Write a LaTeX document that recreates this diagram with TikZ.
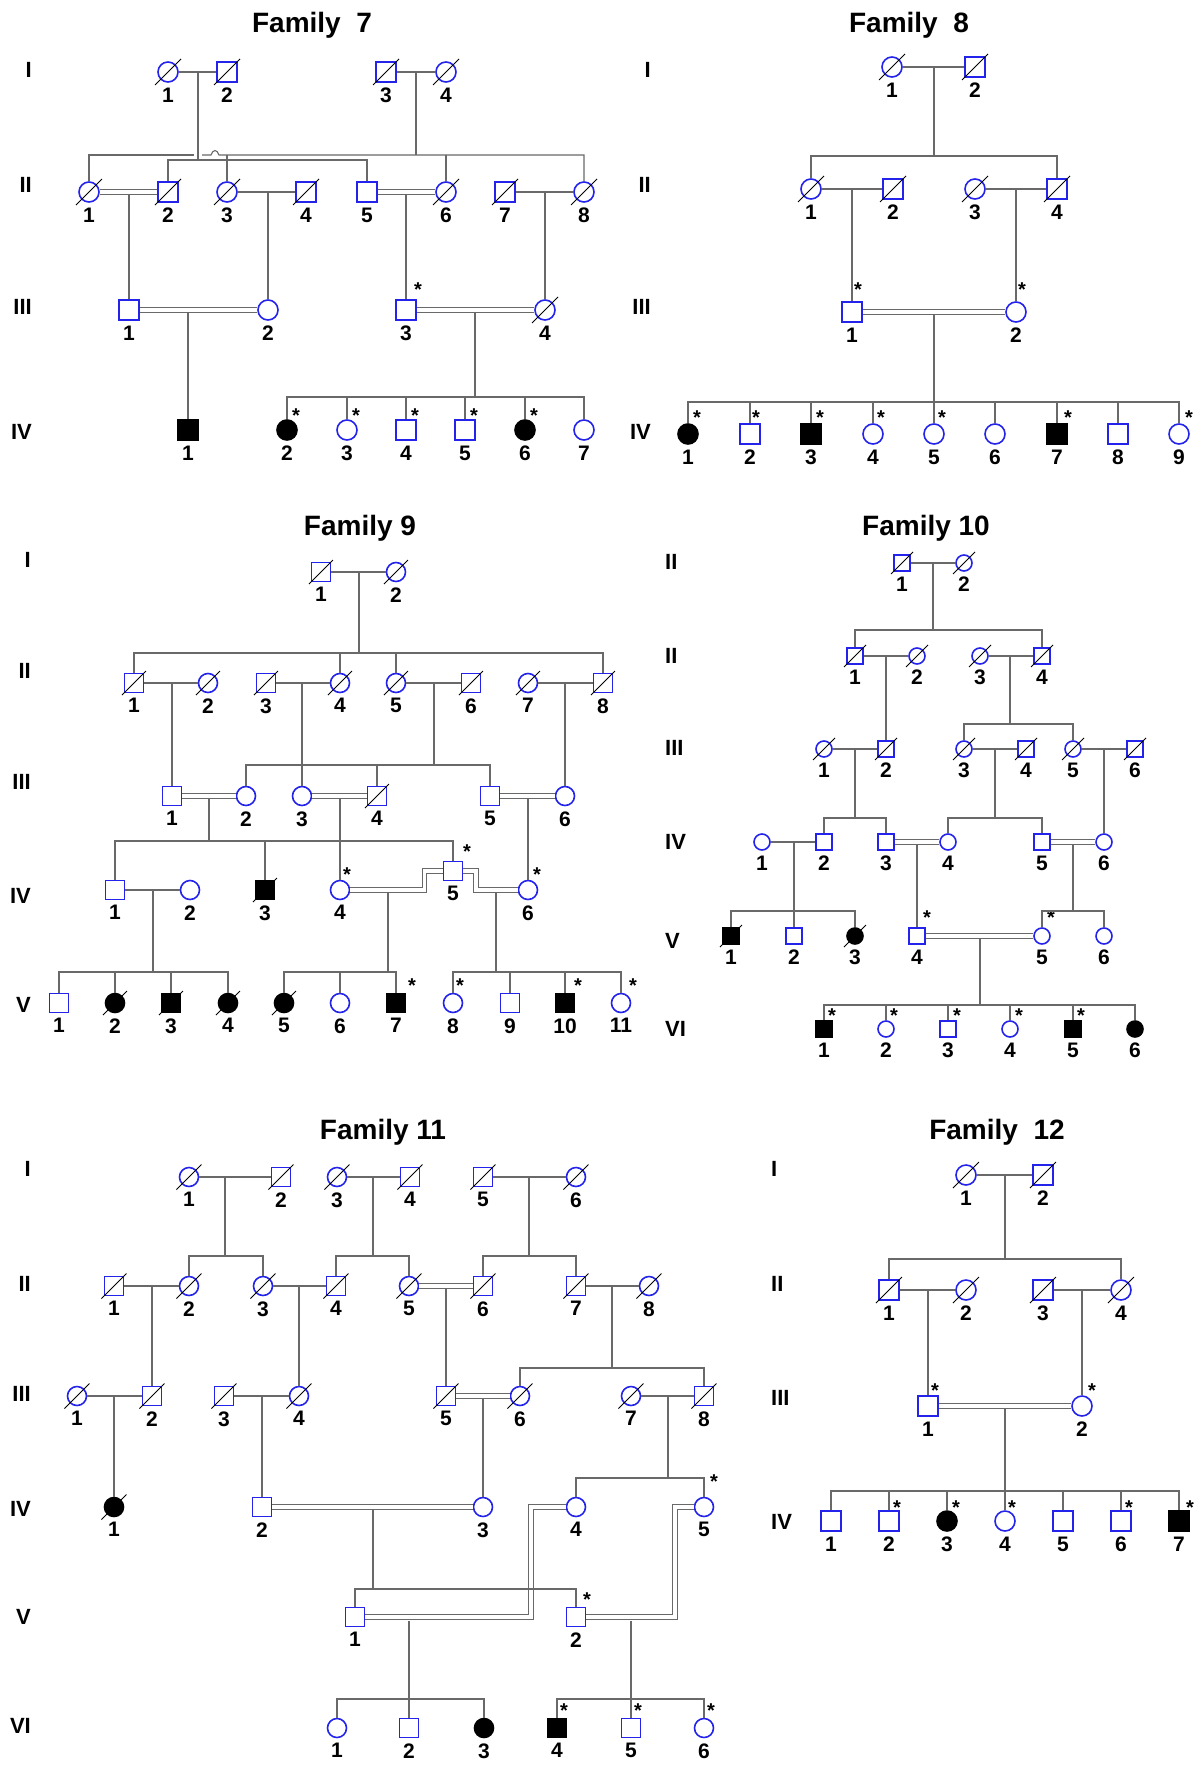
\documentclass[tikz,border=0pt]{standalone}
\usepackage{fontspec}
\setmainfont{Liberation Sans}
\definecolor{pblue}{RGB}{35,35,235}
\definecolor{lgray}{RGB}{105,105,105}
\tikzset{
  person/.style={draw=pblue, line width=1.6pt, inner sep=0pt, minimum size=20pt},
  male/.style={person, rectangle},
  female/.style={person, circle},
  aff/.style={draw=black, fill=black},
  deadln/.style={draw=black, line width=1pt},
  dead/.style={append after command={([shift={(-#1,-#1)}]\tikzlastnode.center) edge[deadln] ([shift={(#1,#1)}]\tikzlastnode.center)}},
  dead/.default=13pt,
  num/.style={font=\bfseries\fontsize{21}{21}\selectfont, inner sep=0pt, yshift=-5pt},
  lb/.style={label={[num]below:#1}},
  astl/.style={font=\bfseries\fontsize{20}{20}\selectfont, inner sep=0pt, anchor=center, yshift=-3pt},
  ast/.style={label={[astl,shift={(#1)}]center:*}},
  ast/.default={9,-17},
  gen/.style={font=\bfseries\fontsize{22}{22}\selectfont, inner sep=0pt},
  ttl/.style={font=\bfseries\fontsize{28}{28}\selectfont, inner sep=0pt, anchor=base},
  cons/.style={line width=1.1pt, double=white, double distance=3.5pt},
}
\begin{document}
\begin{tikzpicture}[x=1pt, y=-1pt]
\useasboundingbox (0,0) rectangle (1204,1772);

% ---------------- Family 7
\node[ttl] (t7) at (312,32) {Family~~7};
\node[gen, anchor=east] (g7a) at (32,70) {I};
\node[gen, anchor=east] (g7b) at (32,185) {II};
\node[gen, anchor=east] (g7c) at (32,307) {III};
\node[gen, anchor=east] (g7d) at (32,432) {IV};

\node[female, dead, lb=1] (f7a1) at (168,72) {};
\node[male, dead, lb=2] (f7a2) at (227,72) {};
\node[male, dead, lb=3] (f7a3) at (386,72) {};
\node[female, dead, lb=4] (f7a4) at (446,72) {};

\node[female, dead, lb=1] (f7b1) at (89,192) {};
\node[male, dead, lb=2] (f7b2) at (168,192) {};
\node[female, dead, lb=3] (f7b3) at (227,192) {};
\node[male, dead, lb=4] (f7b4) at (306,192) {};
\node[male, lb=5] (f7b5) at (367,192) {};
\node[female, dead, lb=6] (f7b6) at (446,192) {};
\node[male, dead, lb=7] (f7b7) at (505,192) {};
\node[female, dead, lb=8] (f7b8) at (584,192) {};

\node[male, lb=1] (f7c1) at (129,310) {};
\node[female, lb=2] (f7c2) at (268,310) {};
\node[male, lb=3, ast={12,-23}] (f7c3) at (406,310) {};
\node[female, dead, lb=4] (f7c4) at (545,310) {};

\node[male, aff, lb=1] (f7d1) at (188,430) {};
\node[female, aff, lb=2, ast] (f7d2) at (287,430) {};
\node[female, lb=3, ast] (f7d3) at (347,430) {};
\node[male, lb=4, ast] (f7d4) at (406,430) {};
\node[male, lb=5, ast] (f7d5) at (465,430) {};
\node[female, aff, lb=6, ast] (f7d6) at (525,430) {};
\node[female, lb=7] (f7d7) at (584,430) {};

\begin{scope}[color=lgray, line width=1.1pt]
\draw (f7a1) -- (f7a2);
\draw (f7a3) -- (f7a4);
\coordinate (m7a) at (198,72);
\coordinate (s7a) at (198,160);
\draw (m7a) -- (s7a);
\draw (f7b2) |- (s7a) -| (f7b5);
\coordinate (m7b) at (416,72);
\coordinate (s7b) at (416,155);
\draw (m7b) -- (s7b);
\draw (f7b1) |- (194,155);
\draw (202,155) -- (211,155) .. controls (213,149) and (217,149) .. (219,155) -| (f7b8);
\draw (f7b3) -- (f7b3 |- s7b);
\draw (f7b6) -- (f7b6 |- s7b);
\draw (f7b3) -- (f7b4);
\draw (f7b7) -- (f7b8);
\draw (f7c1) -- (f7c1 |- f7b1);
\draw (f7c2) -- (f7c2 |- f7b1);
\draw (f7c3) -- (f7c3 |- f7b1);
\draw (f7c4) -- (f7c4 |- f7b1);
\draw (f7d1) -- (f7d1 |- f7c1);
\coordinate (m7h) at (475,310);
\coordinate (s7h) at (475,397);
\draw (m7h) -- (s7h);
\draw (f7d2) |- (s7h) -| (f7d7);
\foreach \k in {3,...,6} \draw (f7d\k) -- (f7d\k |- s7h);
\draw[cons] (f7b1) -- (f7b2);
\draw[cons] (f7b5) -- (f7b6);
\draw[cons] (f7c1) -- (f7c2);
\draw[cons] (f7c3) -- (f7c4);
\end{scope}

% ---------------- Family 8
\node[ttl] (t8) at (909,32) {Family~~8};
\node[gen, anchor=east] (g8a) at (651,70) {I};
\node[gen, anchor=east] (g8b) at (651,185) {II};
\node[gen, anchor=east] (g8c) at (651,307) {III};
\node[gen, anchor=east] (g8d) at (651,432) {IV};

\node[female, dead, lb=1] (f8a1) at (892,67) {};
\node[male, dead, lb=2] (f8a2) at (975,67) {};

\node[female, dead, lb=1] (f8b1) at (811,189) {};
\node[male, dead, lb=2] (f8b2) at (893,189) {};
\node[female, dead, lb=3] (f8b3) at (975,189) {};
\node[male, dead, lb=4] (f8b4) at (1057,189) {};

\node[male, lb=1, ast={6,-25}] (f8c1) at (852,312) {};
\node[female, lb=2, ast={6,-25}] (f8c2) at (1016,312) {};

\node[female, aff, lb=1, ast={9,-19}] (f8d1) at (688,434) {};
\node[male, lb=2, ast={6,-19}] (f8d2) at (750,434) {};
\node[male, aff, lb=3, ast={9,-19}] (f8d3) at (811,434) {};
\node[female, lb=4, ast={8,-19}] (f8d4) at (873,434) {};
\node[female, lb=5, ast={8,-19}] (f8d5) at (934,434) {};
\node[female, lb=6] (f8d6) at (995,434) {};
\node[male, aff, lb=7, ast={11,-19}] (f8d7) at (1057,434) {};
\node[male, lb=8] (f8d8) at (1118,434) {};
\node[female, lb=9, ast={10,-19}] (f8d9) at (1179,434) {};

\begin{scope}[color=lgray, line width=1.1pt]
\draw (f8a1) -- (f8a2);
\coordinate (m8a) at (934,67);
\coordinate (s8a) at (934,156);
\draw (m8a) -- (s8a);
\draw (f8b1) |- (s8a) -| (f8b4);
\draw (f8b1) -- (f8b2);
\draw (f8b3) -- (f8b4);
\draw (f8c1) -- (f8c1 |- f8b1);
\draw (f8c2) -- (f8c2 |- f8b1);
\coordinate (m8c) at (934,312);
\coordinate (s8c) at (934,402);
\draw (m8c) -- (s8c);
\draw (f8d1) |- (s8c) -| (f8d9);
\foreach \k in {2,...,8} \draw (f8d\k) -- (f8d\k |- s8c);
\draw[cons] (f8c1) -- (f8c2);
\end{scope}

% ---------------- Family 9
\begin{scope}[male/.append style={minimum size=19pt}, female/.append style={minimum size=19pt}, dead/.default=12pt]
\node[ttl] (t9) at (360,535) {Family 9};
\node[gen, anchor=east] (g9a) at (31,560) {I};
\node[gen, anchor=east] (g9b) at (31,671) {II};
\node[gen, anchor=east] (g9c) at (31,782) {III};
\node[gen, anchor=east] (g9d) at (31,896) {IV};
\node[gen, anchor=east] (g9e) at (31,1005) {V};

\node[male, dead, lb=1] (f9a1) at (321,572) {};
\node[female, dead, lb=2] (f9a2) at (396,572) {};

\node[male, dead, lb=1] (f9b1) at (134,683) {};
\node[female, dead, lb=2] (f9b2) at (208,683) {};
\node[male, dead, lb=3] (f9b3) at (266,683) {};
\node[female, dead, lb=4] (f9b4) at (340,683) {};
\node[female, dead, lb=5] (f9b5) at (396,683) {};
\node[male, dead, lb=6] (f9b6) at (471,683) {};
\node[female, dead, lb=7] (f9b7) at (528,683) {};
\node[male, dead, lb=8] (f9b8) at (603,683) {};

\node[male, lb=1] (f9c1) at (172,796) {};
\node[female, lb=2] (f9c2) at (246,796) {};
\node[female, lb=3] (f9c3) at (302,796) {};
\node[male, dead, lb=4] (f9c4) at (377,796) {};
\node[male, lb=5] (f9c5) at (490,796) {};
\node[female, lb=6] (f9c6) at (565,796) {};

\node[male, lb=1] (f9d1) at (115,890) {};
\node[female, lb=2] (f9d2) at (190,890) {};
\node[male, aff, dead, lb=3] (f9d3) at (265,890) {};
\node[female, lb=4, ast={7,-18}] (f9d4) at (340,890) {};
\node[male, lb=5, ast={14,-22}] (f9d5) at (453,871) {};
\node[female, lb=6, ast={9,-18}] (f9d6) at (528,890) {};

\node[male, lb=1] (f9e1) at (59,1003) {};
\node[female, aff, dead, lb=2] (f9e2) at (115,1003) {};
\node[male, aff, dead, lb=3] (f9e3) at (171,1003) {};
\node[female, aff, dead, lb=4] (f9e4) at (228,1003) {};
\node[female, aff, dead, lb=5] (f9e5) at (284,1003) {};
\node[female, lb=6] (f9e6) at (340,1003) {};
\node[male, aff, lb=7, ast={16,-20}] (f9e7) at (396,1003) {};
\node[female, lb=8, ast={7,-20}] (f9e8) at (453,1003) {};
\node[male, lb=9] (f9e9) at (510,1003) {};
\node[male, aff, lb=10, ast={13,-20}] (f9e10) at (565,1003) {};
\node[female, lb=11, ast={12,-20}] (f9e11) at (621,1003) {};
\end{scope}

\begin{scope}[color=lgray, line width=1.1pt]
\draw (f9a1) -- (f9a2);
\coordinate (m9a) at (359,572);
\coordinate (s9a) at (359,653);
\draw (m9a) -- (s9a);
\draw (f9b1) |- (s9a) -| (f9b8);
\draw (f9b4) -- (f9b4 |- s9a);
\draw (f9b5) -- (f9b5 |- s9a);
\draw (f9b1) -- (f9b2);
\draw (f9b3) -- (f9b4);
\draw (f9b5) -- (f9b6);
\draw (f9b7) -- (f9b8);
\draw (f9c1) -- (f9c1 |- f9b1);
\draw (f9c3) -- (f9c3 |- f9b1);
\draw (f9c6) -- (f9c6 |- f9b1);
\coordinate (m9f) at (434,683);
\coordinate (s9f) at (434,765);
\draw (m9f) -- (s9f);
\draw (f9c2) |- (s9f) -| (f9c5);
\draw (f9c4) -- (f9c4 |- s9f);
\coordinate (m9g) at (209,796);
\coordinate (s9g) at (209,841);
\draw (m9g) -- (s9g);
\draw (f9d1) |- (s9g) -| (f9d5);
\draw (f9d3) -- (f9d3 |- s9g);
\draw (f9d4) -- (f9d4 |- f9c3);
\draw (f9d6) -- (f9d6 |- f9c6);
\draw (f9d1) -- (f9d2);
\coordinate (m9h) at (153,890);
\coordinate (s9h) at (153,972);
\draw (m9h) -- (s9h);
\draw (f9e1) |- (s9h) -| (f9e4);
\draw (f9e2) -- (f9e2 |- s9h);
\draw (f9e3) -- (f9e3 |- s9h);
\coordinate (m9i) at (388,890);
\coordinate (s9i) at (388,972);
\draw (m9i) -- (s9i);
\draw (f9e5) |- (s9i) -| (f9e7);
\draw (f9e6) -- (f9e6 |- s9i);
\coordinate (m9j) at (496,890);
\coordinate (s9j) at (496,972);
\draw (m9j) -- (s9j);
\draw (f9e8) |- (s9j) -| (f9e11);
\draw (f9e9) -- (f9e9 |- s9j);
\draw (f9e10) -- (f9e10 |- s9j);
\draw[cons] (f9c1) -- (f9c2);
\draw[cons] (f9c3) -- (f9c4);
\draw[cons] (f9c5) -- (f9c6);
\draw[cons] (f9d4) -- (424.5,890) -- (424.5,871) -- (f9d5);
\draw[cons] (f9d5) -- (476,871) -- (476,890) -- (f9d6);
\end{scope}

% ---------------- Family 10
\begin{scope}[male/.append style={minimum size=16pt}, female/.append style={minimum size=16pt}, dead/.default=11pt]
\node[ttl] (t10) at (926,535) {Family 10};
\node[gen, anchor=west] (g10a) at (665,562) {II};
\node[gen, anchor=west] (g10b) at (665,656) {II};
\node[gen, anchor=west] (g10c) at (665,748) {III};
\node[gen, anchor=west] (g10d) at (665,842) {IV};
\node[gen, anchor=west] (g10e) at (665,941) {V};
\node[gen, anchor=west] (g10f) at (665,1029) {VI};

\node[male, dead, lb=1] (f10a1) at (902,563) {};
\node[female, dead, lb=2] (f10a2) at (964,563) {};

\node[male, dead, lb=1] (f10b1) at (855,656) {};
\node[female, dead, lb=2] (f10b2) at (917,656) {};
\node[female, dead, lb=3] (f10b3) at (980,656) {};
\node[male, dead, lb=4] (f10b4) at (1042,656) {};

\node[female, dead, lb=1] (f10c1) at (824,749) {};
\node[male, dead, lb=2] (f10c2) at (886,749) {};
\node[female, dead, lb=3] (f10c3) at (964,749) {};
\node[male, dead, lb=4] (f10c4) at (1026,749) {};
\node[female, dead, lb=5] (f10c5) at (1073,749) {};
\node[male, dead, lb=6] (f10c6) at (1135,749) {};

\node[female, lb=1] (f10d1) at (762,842) {};
\node[male, lb=2] (f10d2) at (824,842) {};
\node[male, lb=3] (f10d3) at (886,842) {};
\node[female, lb=4] (f10d4) at (948,842) {};
\node[male, lb=5] (f10d5) at (1042,842) {};
\node[female, lb=6] (f10d6) at (1104,842) {};

\node[male, aff, dead, lb=1] (f10e1) at (731,936) {};
\node[male, lb=2] (f10e2) at (794,936) {};
\node[female, aff, dead, lb=3] (f10e3) at (855,936) {};
\node[male, lb=4, ast={10,-21}] (f10e4) at (917,936) {};
\node[female, lb=5, ast={9,-21}] (f10e5) at (1042,936) {};
\node[female, lb=6] (f10e6) at (1104,936) {};

\node[male, aff, lb=1, ast={8,-16}] (f10f1) at (824,1029) {};
\node[female, lb=2, ast={8,-16}] (f10f2) at (886,1029) {};
\node[male, lb=3, ast={9,-16}] (f10f3) at (948,1029) {};
\node[female, lb=4, ast={9,-16}] (f10f4) at (1010,1029) {};
\node[male, aff, lb=5, ast={8,-16}] (f10f5) at (1073,1029) {};
\node[female, aff, lb=6] (f10f6) at (1135,1029) {};
\end{scope}

\begin{scope}[color=lgray, line width=1.1pt]
\draw (f10a1) -- (f10a2);
\coordinate (m10a) at (933,563);
\coordinate (s10a) at (933,630);
\draw (m10a) -- (s10a);
\draw (f10b1) |- (s10a) -| (f10b4);
\draw (f10b1) -- (f10b2);
\draw (f10b3) -- (f10b4);
\draw (f10c2) -- (f10c2 |- f10b1);
\coordinate (m10b) at (1010,656);
\coordinate (s10b) at (1010,724);
\draw (m10b) -- (s10b);
\draw (f10c3) |- (s10b) -| (f10c5);
\draw (f10c1) -- (f10c2);
\draw (f10c3) -- (f10c4);
\draw (f10c5) -- (f10c6);
\coordinate (m10c) at (855,749);
\coordinate (s10c) at (855,818);
\draw (m10c) -- (s10c);
\draw (f10d2) |- (s10c) -| (f10d3);
\coordinate (m10d) at (995,749);
\coordinate (s10d) at (995,818);
\draw (m10d) -- (s10d);
\draw (f10d4) |- (s10d) -| (f10d5);
\draw (f10d6) -- (f10d6 |- f10c6);
\draw (f10d1) -- (f10d2);
\coordinate (m10e) at (794,842);
\coordinate (s10e) at (794,911);
\draw (m10e) -- (s10e);
\draw (f10e1) |- (s10e) -| (f10e3);
\draw (f10e2) -- (f10e2 |- s10e);
\draw (f10e4) -- (f10e4 |- f10d3);
\coordinate (m10f) at (1073,842);
\coordinate (s10f) at (1073,911);
\draw (m10f) -- (s10f);
\draw (f10e5) |- (s10f) -| (f10e6);
\coordinate (m10g) at (980,936);
\coordinate (s10g) at (980,1005);
\draw (m10g) -- (s10g);
\draw (f10f1) |- (s10g) -| (f10f6);
\foreach \k in {2,...,5} \draw (f10f\k) -- (f10f\k |- s10g);
\draw[cons] (f10d3) -- (f10d4);
\draw[cons] (f10d5) -- (f10d6);
\draw[cons] (f10e4) -- (f10e5);
\end{scope}

% ---------------- Family 11
\begin{scope}[male/.append style={minimum size=19pt}, female/.append style={minimum size=19pt}, dead/.default=12.5pt]
\node[ttl] (t11) at (383,1139) {Family 11};
\node[gen, anchor=east] (g11a) at (31,1169) {I};
\node[gen, anchor=east] (g11b) at (31,1284) {II};
\node[gen, anchor=east] (g11c) at (31,1394) {III};
\node[gen, anchor=east] (g11d) at (31,1509) {IV};
\node[gen, anchor=east] (g11e) at (31,1617) {V};
\node[gen, anchor=east] (g11f) at (31,1726) {VI};

\node[female, dead, lb=1] (f11a1) at (189,1177) {};
\node[male, dead, lb=2] (f11a2) at (281,1177) {};
\node[female, dead, lb=3] (f11a3) at (337,1177) {};
\node[male, dead, lb=4] (f11a4) at (410,1177) {};
\node[male, dead, lb=5] (f11a5) at (483,1177) {};
\node[female, dead, lb=6] (f11a6) at (576,1177) {};

\node[male, dead, lb=1] (f11b1) at (114,1286) {};
\node[female, dead, lb=2] (f11b2) at (189,1286) {};
\node[female, dead, lb=3] (f11b3) at (263,1286) {};
\node[male, dead, lb=4] (f11b4) at (336,1286) {};
\node[female, dead, lb=5] (f11b5) at (409,1286) {};
\node[male, dead, lb=6] (f11b6) at (483,1286) {};
\node[male, dead, lb=7] (f11b7) at (576,1286) {};
\node[female, dead, lb=8] (f11b8) at (649,1286) {};

\node[female, dead, lb=1] (f11c1) at (77,1396) {};
\node[male, dead, lb=2] (f11c2) at (152,1396) {};
\node[male, dead, lb=3] (f11c3) at (224,1396) {};
\node[female, dead, lb=4] (f11c4) at (299,1396) {};
\node[male, dead, lb=5] (f11c5) at (446,1396) {};
\node[female, dead, lb=6] (f11c6) at (520,1396) {};
\node[female, dead, lb=7] (f11c7) at (631,1396) {};
\node[male, dead, lb=8] (f11c8) at (704,1396) {};

\node[female, aff, dead, lb=1] (f11d1) at (114,1507) {};
\node[male, lb=2] (f11d2) at (262,1507) {};
\node[female, lb=3] (f11d3) at (483,1507) {};
\node[female, lb=4] (f11d4) at (576,1507) {};
\node[female, lb=5, ast={10,-28}] (f11d5) at (704,1507) {};

\node[male, lb=1] (f11e1) at (355,1617) {};
\node[male, lb=2, ast={11,-20}] (f11e2) at (576,1617) {};

\node[female, lb=1] (f11f1) at (337,1728) {};
\node[male, lb=2] (f11f2) at (409,1728) {};
\node[female, aff, lb=3] (f11f3) at (484,1728) {};
\node[male, aff, lb=4, ast={7,-20}] (f11f4) at (557,1728) {};
\node[male, lb=5, ast={7,-20}] (f11f5) at (631,1728) {};
\node[female, lb=6, ast={7,-20}] (f11f6) at (704,1728) {};
\end{scope}

\begin{scope}[color=lgray, line width=1.1pt]
\draw (f11a1) -- (f11a2);
\coordinate (m11a) at (225,1177);
\coordinate (s11a) at (225,1256);
\draw (m11a) -- (s11a);
\draw (f11b2) |- (s11a) -| (f11b3);
\draw (f11a3) -- (f11a4);
\coordinate (m11b) at (373,1177);
\coordinate (s11b) at (373,1256);
\draw (m11b) -- (s11b);
\draw (f11b4) |- (s11b) -| (f11b5);
\draw (f11a5) -- (f11a6);
\coordinate (m11c) at (529,1177);
\coordinate (s11c) at (529,1256);
\draw (m11c) -- (s11c);
\draw (f11b6) |- (s11c) -| (f11b7);
\draw (f11b1) -- (f11b2);
\draw (f11b3) -- (f11b4);
\draw (f11b7) -- (f11b8);
\draw (f11c2) -- (f11c2 |- f11b1);
\draw (f11c4) -- (f11c4 |- f11b1);
\draw (f11c5) -- (f11c5 |- f11b1);
\coordinate (m11d) at (612,1286);
\coordinate (s11d) at (612,1368);
\draw (m11d) -- (s11d);
\draw (f11c6) |- (s11d) -| (f11c8);
\draw (f11c1) -- (f11c2);
\draw (f11c3) -- (f11c4);
\draw (f11c7) -- (f11c8);
\draw (f11d1) -- (f11d1 |- f11c1);
\draw (f11d2) -- (f11d2 |- f11c1);
\draw (f11d3) -- (f11d3 |- f11c1);
\coordinate (m11e) at (668,1396);
\coordinate (s11e) at (668,1478);
\draw (m11e) -- (s11e);
\draw (f11d4) |- (s11e) -| (f11d5);
\draw[cons] (f11b5) -- (f11b6);
\draw[cons] (f11c5) -- (f11c6);
\draw[cons] (f11d4) -- (531,1507) -- (531,1617) -- (f11e1);
\draw[cons] (f11d5) -- (675,1507) -- (675,1617) -- (f11e2);
\coordinate (m11f) at (373,1507);
\coordinate (s11f) at (373,1589);
\draw (m11f) -- (s11f);
\draw (f11e1) |- (s11f) -| (f11e2);
\draw[cons] (f11d2) -- (f11d3);
\coordinate (m11g) at (409,1621);
\coordinate (s11g) at (409,1699);
\draw (m11g) -- (s11g);
\draw (f11f1) |- (s11g) -| (f11f3);
\draw (f11f2) -- (f11f2 |- s11g);
\coordinate (m11h) at (631,1621);
\coordinate (s11h) at (631,1699);
\draw (m11h) -- (s11h);
\draw (f11f4) |- (s11h) -| (f11f6);
\draw (f11f5) -- (f11f5 |- s11h);
\end{scope}

% ---------------- Family 12
\node[ttl] (t12) at (997,1139) {Family~~12};
\node[gen, anchor=west] (g12a) at (771,1169) {I};
\node[gen, anchor=west] (g12b) at (771,1284) {II};
\node[gen, anchor=west] (g12c) at (771,1398) {III};
\node[gen, anchor=west] (g12d) at (771,1522) {IV};

\node[female, dead, lb=1] (f12a1) at (966,1175) {};
\node[male, dead, lb=2] (f12a2) at (1043,1175) {};

\node[male, dead, lb=1] (f12b1) at (889,1290) {};
\node[female, dead, lb=2] (f12b2) at (966,1290) {};
\node[male, dead, lb=3] (f12b3) at (1043,1290) {};
\node[female, dead, lb=4] (f12b4) at (1121,1290) {};

\node[male, lb=1, ast={7,-18}] (f12c1) at (928,1406) {};
\node[female, lb=2, ast={10,-18}] (f12c2) at (1082,1406) {};

\node[male, lb=1] (f12d1) at (831,1521) {};
\node[male, lb=2, ast={8,-16}] (f12d2) at (889,1521) {};
\node[female, aff, lb=3, ast={9,-16}] (f12d3) at (947,1521) {};
\node[female, lb=4, ast={7,-16}] (f12d4) at (1005,1521) {};
\node[male, lb=5] (f12d5) at (1063,1521) {};
\node[male, lb=6, ast={8,-16}] (f12d6) at (1121,1521) {};
\node[male, aff, lb=7, ast={11,-16}] (f12d7) at (1179,1521) {};

\begin{scope}[color=lgray, line width=1.1pt]
\draw (f12a1) -- (f12a2);
\coordinate (m12a) at (1005,1175);
\coordinate (s12a) at (1005,1259);
\draw (m12a) -- (s12a);
\draw (f12b1) |- (s12a) -| (f12b4);
\draw (f12b1) -- (f12b2);
\draw (f12b3) -- (f12b4);
\draw (f12c1) -- (f12c1 |- f12b1);
\draw (f12c2) -- (f12c2 |- f12b1);
\coordinate (m12c) at (1005,1406);
\coordinate (s12c) at (1005,1491);
\draw (m12c) -- (s12c);
\draw (f12d1) |- (s12c) -| (f12d7);
\foreach \k in {2,...,6} \draw (f12d\k) -- (f12d\k |- s12c);
\draw[cons] (f12c1) -- (f12c2);
\end{scope}
\end{tikzpicture}
\end{document}
